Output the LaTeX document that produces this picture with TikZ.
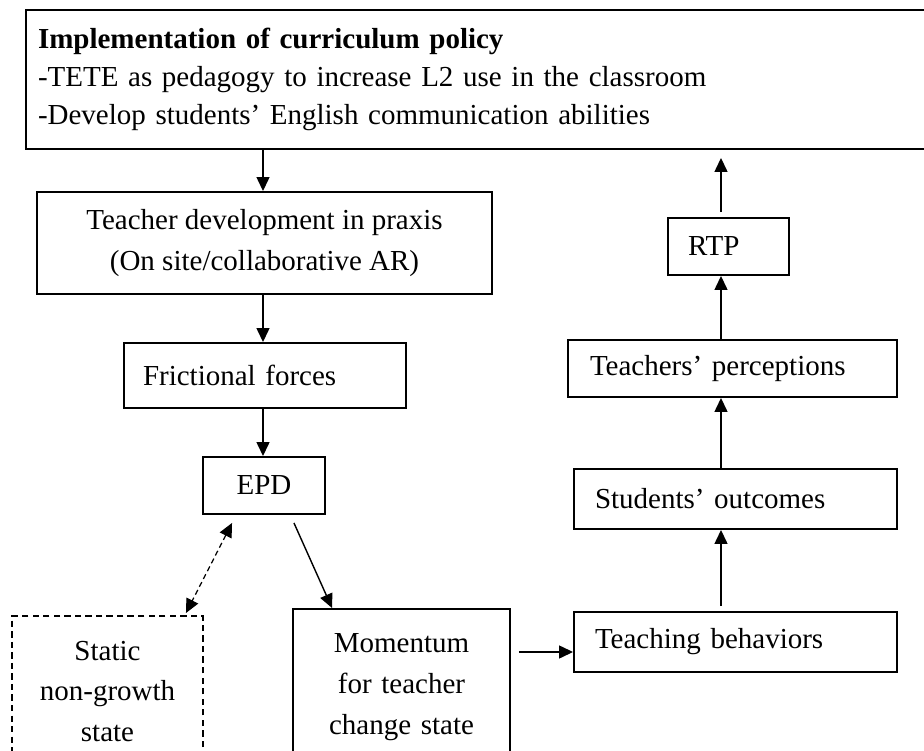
\documentclass[tikz,border=0pt]{standalone}
\usepackage{fontspec}
\setmainfont{Liberation Serif}
\usetikzlibrary{calc,arrows.meta}

\tikzset{
	box/.style={draw, line width=1.1pt, inner sep=0pt, align=center,
		font=\fontsize{16.5pt}{23.2pt}\selectfont},
	padbox/.style 2 args={box, align=left, inner xsep=#1, text width=#2},
	dashbox/.style={box, dash pattern=on 3.6pt off 2.4pt},
	arr/.style={line width=0.8pt, -{Triangle[length=0.28cm,width=0.26cm]}},
	dasharr/.style={line width=0.7pt, dash pattern=on 3pt off 2pt,
		{Triangle[length=0.28cm,width=0.26cm]}-{Triangle[length=0.28cm,width=0.26cm]}}
}

\begin{document}
\begin{tikzpicture}
			%%%%% FRAME %%%%%
			\useasboundingbox (0, 0) rectangle (18.48, -15.02);
			\clip (0, 0) rectangle (18.48, -15.02);
			
			%%%%% LEFT COLUMN %%%%%
			\node[padbox={0.24cm}{18.4cm}, minimum height=2.78cm, font=\fontsize{16.5pt}{21.8pt}\selectfont] (policy) at (9.96, -1.59)
				{\textbf{Implementation of curriculum policy}\\-TETE as pedagogy to increase L2 use in the classroom\\-Develop students’ English communication abilities};
			
			\node[box, minimum width=9.1cm, minimum height=2.04cm] (praxis) at (5.29, -4.86)
				{Teacher development in praxis\\(On site/collaborative AR)};
			\node[padbox={0.38cm}{4.88cm}, minimum height=1.3cm] (friction) at (5.3, -7.51) {Frictional forces};
			\node[box, minimum width=2.44cm, minimum height=1.14cm] (epd) at (5.28, -9.71) {EPD};
			
			\node[dashbox, anchor=north, text width=3.82cm, inner ysep=0.5cm] (static) at (2.15, -12.3)
				{Static\\non-growth\\state};
			\node[box, anchor=north, text width=4.34cm, inner ysep=0.5cm] (momentum) at (8.03, -12.16)
				{Momentum\\for teacher\\change state};
			
			%%%%% RIGHT COLUMN %%%%%
			\node[padbox={0.42cm}{5.62cm}, minimum height=1.2cm] (teaching) at (14.71, -12.84) {Teaching behaviors};
			\node[padbox={0.42cm}{5.62cm}, minimum height=1.2cm] (outcomes) at (14.71, -9.98) {Students’ outcomes};
			\node[padbox={0.44cm}{5.7cm}, minimum height=1.14cm] (percept) at (14.65, -7.37) {Teachers’ perceptions};
			\node[padbox={0.4cm}{1.62cm}, minimum height=1.14cm] (rtp) at (14.57, -4.93) {RTP};
			
			\coordinate (lcol) at (5.26, 0);
			\coordinate (rcol) at (14.42, 0);
			
			%%%%% ARROWS %%%%%
			\draw[arr] (policy.south -| lcol) -- (praxis.north -| lcol);
			\draw[arr] (praxis.south -| lcol) -- (friction.north -| lcol);
			\draw[arr] (friction.south -| lcol) -- (epd.north -| lcol);
			
			\draw[arr] ($(epd.south east)+(-0.64,-0.16)$) -- ($(momentum.north west)+(0.8,0)$);
			\draw[dasharr] ($(epd.south west)+(0.6,-0.16)$) -- ($(static.north east)+(-0.36,0.04)$);
			
			\coordinate (mout) at ($(momentum.north east)+(0.16,-0.88)$);
			\draw[arr] (mout) -- (mout -| teaching.west);
			
			\draw[arr, shorten <=0.1cm] (teaching.north -| rcol) -- (outcomes.south -| rcol);
			\draw[arr] (outcomes.north -| rcol) -- (percept.south -| rcol);
			\draw[arr] (percept.north -| rcol) -- (rtp.south -| rcol);
			\draw[arr, shorten <=0.1cm, shorten >=0.16cm] (rtp.north -| rcol) -- (policy.south -| rcol);
			
			%%%%% END %%%%%
\end{tikzpicture}
\end{document}
